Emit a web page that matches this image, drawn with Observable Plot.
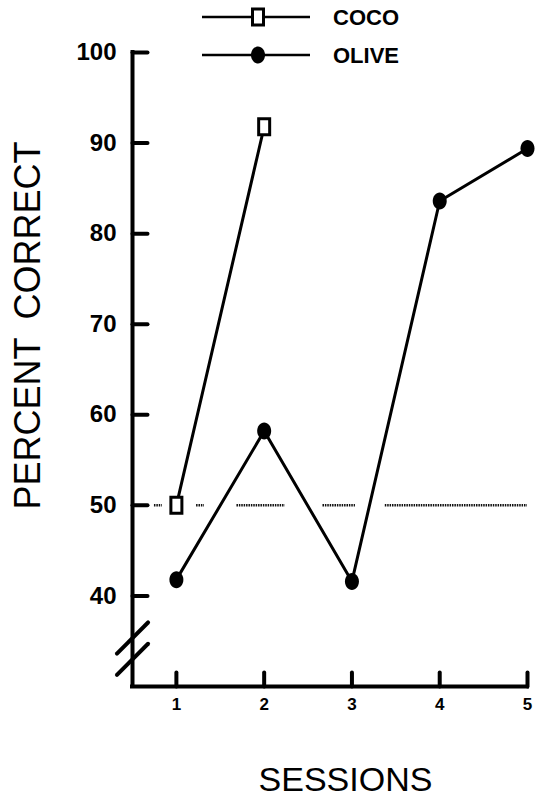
<!DOCTYPE html>
<html>
<head>
<meta charset="utf-8">
<script src="https://cdn.jsdelivr.net/npm/d3@7"></script>
<script src="https://cdn.jsdelivr.net/npm/@observablehq/plot@0.6"></script>
<style>
  body { margin: 0; background: #fff; }
  #wrap { position: relative; width: 545px; height: 797px; }
  #legend { position: absolute; left: 0; top: 0; }
  svg { font-family: "Liberation Sans", Arial, Helvetica, sans-serif; }
</style>
</head>
<body>
<div id="wrap"><div id="chart"></div><svg id="legend" width="545" height="75"></svg></div>
<script>
// ---- data ----
const seriesNames = ["COCO", "OLIVE"];
const sessions = [1, 2, 3, 4, 5];
const cocoSessions = [1, 2];
const cocoValues = [50, 91.8];
const oliveValues = [41.8, 58.2, 41.6, 83.6, 89.4];
const chanceLevel = 50;
const chanceSegments = [[0.75, 0.84], [1.23, 1.32], [1.69, 2.24], [2.67, 3.04], [3.38, 5.0]];
const xTicks = [1, 2, 3, 4, 5];
const yTicks = [40, 50, 60, 70, 80, 90, 100];
const axisBreaks = [33.0, 35.35];
const xTitle = "SESSIONS";
const yTitle = "PERCENT\u2002CORRECT";

const coco = cocoSessions.map((s, i) => ({session: s, value: cocoValues[i]}));
const olive = sessions.map((s, i) => ({session: s, value: oliveValues[i]}));

// ---- custom symbols ----
const tallRect = {draw(ctx) { ctx.moveTo(-5.5, -8); ctx.lineTo(5.5, -8); ctx.lineTo(5.5, 8); ctx.lineTo(-5.5, 8); ctx.closePath(); }};
const ellipse = {draw(ctx) {
  const rx = 7, ry = 8.5, k = 0.5523;
  ctx.moveTo(rx, 0);
  ctx.bezierCurveTo(rx, ry * k, rx * k, ry, 0, ry);
  ctx.bezierCurveTo(-rx * k, ry, -rx, ry * k, -rx, 0);
  ctx.bezierCurveTo(-rx, -ry * k, -rx * k, -ry, 0, -ry);
  ctx.bezierCurveTo(rx * k, -ry, rx, -ry * k, rx, 0);
  ctx.closePath();
}};
const tickShape = {draw(ctx, l) { ctx.moveTo(0, 0); ctx.lineTo(0, -l); }};
const breakShape = {draw(ctx, l) { ctx.moveTo(0, 0); ctx.lineTo(0, -l); }};

const chart = Plot.plot({
  width: 545,
  height: 797,
  marginLeft: 132,
  marginRight: 18,
  marginTop: 52,
  marginBottom: 111,
  style: {fontFamily: "'Liberation Sans', Arial, Helvetica, sans-serif", background: "white", color: "black"},
  x: {domain: [0.5, 5]},
  y: {domain: [30, 100]},
  marks: [
    // inward ticks
    Plot.vector(yTicks, {x: 0.5, y: d => d, length: 15, rotate: 90, anchor: "start", shape: tickShape, stroke: "black", strokeWidth: 4}),
    Plot.vector(xTicks, {x: d => d, y: 30, length: 14, rotate: 0, anchor: "start", shape: tickShape, stroke: "black", strokeWidth: 4}),
    Plot.ruleY(chanceSegments, {y: chanceLevel, x1: d => d[0], x2: d => d[1], stroke: "#111", strokeWidth: 2.5, strokeDasharray: "1.5,0.9"}),
    Plot.line(olive, {x: "session", y: "value", stroke: "black", strokeWidth: 3}),
    Plot.line(coco, {x: "session", y: "value", stroke: "black", strokeWidth: 3}),
    Plot.dot(olive, {x: "session", y: "value", symbol: ellipse, fill: "black", stroke: "none"}),
    Plot.dot(coco, {x: "session", y: "value", symbol: tallRect, fill: "white", stroke: "black", strokeWidth: 3}),
    Plot.ruleX([0.5], {y1: 30, y2: 100, stroke: "black", strokeWidth: 4, strokeLinecap: "square"}),
    Plot.ruleY([30], {x1: 0.5, x2: 5, stroke: "black", strokeWidth: 4, strokeLinecap: "square"}),
    Plot.vector(axisBreaks, {x: 0.5, y: d => d, length: 44, rotate: 45, anchor: "middle", shape: breakShape, stroke: "black", strokeWidth: 4}),
    Plot.axisY({ticks: yTicks, tickSize: 0, tickPadding: 16, fontSize: 24, fontWeight: "bold", label: null}),
    Plot.axisX({ticks: xTicks, tickSize: 0, tickPadding: 11, tickFormat: d => String(d), fontSize: 17, fontWeight: "bold", label: null}),
    Plot.text([yTitle], {frameAnchor: "left", rotate: -90, dx: -104, dy: -44, fontSize: 36, textAnchor: "middle", lineAnchor: "middle"}),
    Plot.text([xTitle], {frameAnchor: "bottom", dx: 15.5, dy: 94, fontSize: 34, textAnchor: "middle", lineAnchor: "middle"})
  ]
});
document.getElementById("chart").appendChild(chart);

// ---- legend ----
const lg = d3.select("#legend");
const legendSymbols = [tallRect, ellipse];
const legendFill = ["white", "black"];
seriesNames.forEach((name, i) => {
  const cy = 17 + i * 38;
  const g = lg.append("g").attr("transform", `translate(0,${cy})`);
  g.append("line").attr("x1", 202).attr("x2", 310).attr("y1", 0).attr("y2", 0).attr("stroke", "black").attr("stroke-width", 2.5);
  const p = d3.path(); legendSymbols[i].draw(p);
  g.append("path").attr("d", p.toString()).attr("transform", "translate(258,0)")
    .attr("fill", legendFill[i]).attr("stroke", i === 0 ? "black" : "none").attr("stroke-width", 3);
  g.append("text").attr("x", 333).attr("y", 0).attr("dy", "0.36em").attr("font-size", 22).attr("font-weight", "bold").text(name);
});
</script>
</body>
</html>
